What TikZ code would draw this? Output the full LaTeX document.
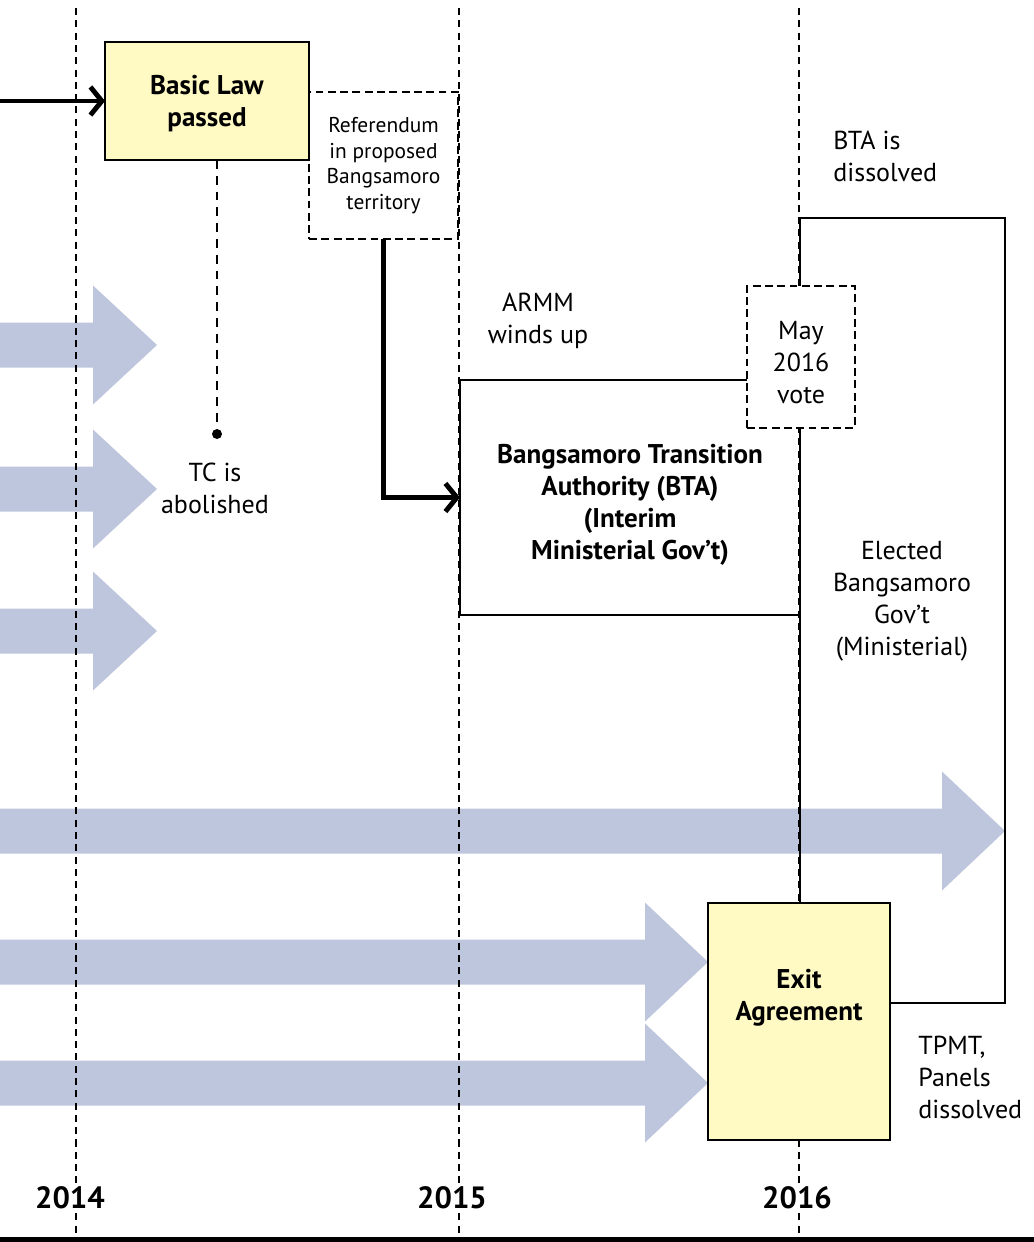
\documentclass[tikz,border=0pt]{standalone}
\usepackage{fontspec}
\setmainfont{PT Sans}
\usetikzlibrary{arrows.meta,calc}
\definecolor{flowblue}{RGB}{190,198,222}
\definecolor{lawyellow}{RGB}{255,249,196}

\begin{document}
\begin{tikzpicture}[x=0.02cm,y=-0.02cm,
    every node/.style={font=\fontsize{14.8}{18.2}\selectfont,align=center},
    yearline/.style={line width=1.4pt,dash pattern=on 4pt off 3pt},
    tcline/.style={line width=1.4pt,dash pattern=on 5pt off 4pt},
    phasebox/.style={draw,line width=1.6pt,inner sep=0pt,outer sep=0pt},
    votebox/.style={phasebox,dash pattern=on 4.5pt off 2.5pt,fill=white},
    keybox/.style={phasebox,fill=lawyellow},
    boldtext/.style={font=\bfseries\fontsize{15.4}{18.2}\selectfont},
    sidetext/.style={align=left,anchor=west,inner sep=0pt},
    yearlabel/.style={fill=white,inner sep=2pt,font=\bfseries\fontsize{17.5}{20}\selectfont},
    flowline/.style={line width=2.8pt,-{Straight Barb[length=6.5pt,width=16pt]}}]
  \useasboundingbox (0,0) rectangle (1034,1242);

  % broad flow arrows
  \foreach \yc/\xh/\xt in {345/93/157, 489/93/157, 631/93/157, 831/942/1005, 962/645/708, 1083/645/708}
    \fill[flowblue] (0,\yc-22.5) -- (\xh,\yc-22.5) -- (\xh,\yc-59.5) -- (\xt,\yc)
      -- (\xh,\yc+59.5) -- (\xh,\yc+22.5) -- (0,\yc+22.5) -- cycle;

  % year grid
  \foreach \xv in {76,459,799}
    \draw[yearline] (\xv,8) -- (\xv,1237);
  \fill (0,1237) rectangle (1034,1242);

  % phases
  \node[phasebox,minimum width=4.1cm,minimum height=15.7cm] (elected) at (902.5,610.5) {};
  \node[phasebox,minimum width=6.8cm,minimum height=4.7cm] (bta) at (630,497.5) {};
  \node[boldtext] (btatext) at (630,505)
    {Bangsamoro Transition\\Authority (BTA)\\(Interim\\Ministerial Gov’t)};
  \node[votebox,font=\fontsize{12.2}{14.6}\selectfont,minimum width=2.98cm,minimum height=2.94cm]
    (referendum) at (383.5,165.5) {Referendum\\in proposed\\Bangsamoro\\territory};
  \node[keybox,minimum width=4.08cm,minimum height=2.36cm] (basiclaw) at (207,101) {};
  \node[boldtext] (basictext) at (207,104) {Basic Law\\passed};
  \node[votebox,minimum width=2.16cm,minimum height=2.84cm] (mayvote) at (801,357) {};
  \node (maytext) at (801,363) {May\\2016\\vote};
  \node[keybox,minimum width=3.64cm,minimum height=4.74cm] (exit) at (799,1021.5) {};
  \node[boldtext] (exittext) at (799,998) {Exit\\Agreement};

  % TC
  \node[circle,fill,inner sep=0pt,minimum size=0.2cm] (tcdot) at (217,434) {};
  \draw[tcline] (basiclaw.south -| tcdot) -- (tcdot);
  \node (tclabel) at (215,488) {TC is\\abolished};

  % connectors
  \coordinate (lawin) at (0,101);
  \draw[flowline] (lawin) -- (basiclaw.west);
  \draw[flowline] (referendum.south) |- (bta.west);

  % notes
  \node (armm) at (538,321) {ARMM\\winds up};
  \node[sidetext] (btaend) at (833,156) {BTA is\\dissolved};
  \node (electedtext) at (902,601) {Elected\\Bangsamoro\\Gov’t\\(Ministerial)};
  \node[sidetext] (tpmt) at (918,1077) {TPMT,\\Panels\\dissolved};

  % years
  \node[yearlabel] (y2014) at (70,1198) {2014};
  \node[yearlabel] (y2015) at (452,1198) {2015};
  \node[yearlabel] (y2016) at (797,1198) {2016};
\end{tikzpicture}
\end{document}
